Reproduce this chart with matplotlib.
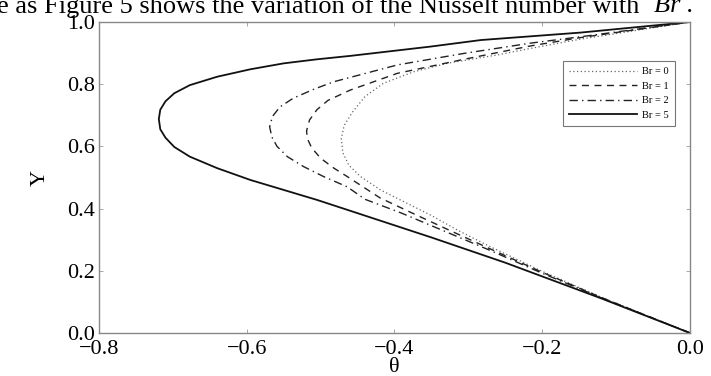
import matplotlib
matplotlib.use("Agg")
import matplotlib.pyplot as plt

# temperature profiles theta(Y) for several Brinkman numbers
br_labels = ["Br = 0", "Br = 1", "Br = 2", "Br = 5"]

theta_br0 = [0.000, -0.121, -0.200, -0.270, -0.315, -0.351, -0.383, -0.419, -0.446,
             -0.462, -0.470, -0.472, -0.468, -0.457, -0.440, -0.415, -0.374, -0.329,
             -0.261, -0.216, -0.148, 0.000]
y_br0 = [0.000, 0.116, 0.198, 0.277, 0.331, 0.379, 0.417, 0.460, 0.503,
         0.540, 0.580, 0.625, 0.668, 0.710, 0.760, 0.803, 0.840, 0.867,
         0.894, 0.915, 0.945, 1.000]

theta_br1 = [0.000, -0.121, -0.200, -0.270, -0.330, -0.380, -0.420, -0.464, -0.482,
             -0.500, -0.512, -0.518, -0.519, -0.515, -0.505, -0.490, -0.460, -0.396,
             -0.306, -0.216, -0.148, 0.000]
y_br1 = [0.000, 0.115, 0.195, 0.270, 0.335, 0.390, 0.435, 0.503, 0.530,
         0.562, 0.595, 0.625, 0.650, 0.685, 0.718, 0.748, 0.781, 0.835,
         0.880, 0.923, 0.950, 1.000]

theta_br2 = [0.000, -0.121, -0.200, -0.270, -0.330, -0.390, -0.440, -0.464, -0.496,
             -0.523, -0.545, -0.559, -0.566, -0.569, -0.565, -0.555, -0.537, -0.509,
             -0.482, -0.396, -0.306, -0.216, -0.140, 0.000]
y_br2 = [0.000, 0.114, 0.192, 0.265, 0.325, 0.385, 0.430, 0.470, 0.503,
         0.535, 0.567, 0.600, 0.630, 0.663, 0.697, 0.727, 0.755, 0.784,
         0.808, 0.862, 0.899, 0.932, 0.955, 1.000]

theta_br5 = [0.000, -0.121, -0.250, -0.351, -0.460, -0.505, -0.550, -0.595, -0.640,
             -0.677, -0.698, -0.710, -0.717, -0.719, -0.717, -0.710, -0.698, -0.677,
             -0.640, -0.595, -0.550, -0.505, -0.460, -0.351, -0.283, -0.148, 0.000]
y_br5 = [0.000, 0.112, 0.226, 0.308, 0.393, 0.428, 0.460, 0.492, 0.530,
         0.567, 0.598, 0.628, 0.655, 0.688, 0.718, 0.745, 0.771, 0.797,
         0.824, 0.848, 0.867, 0.880, 0.891, 0.921, 0.942, 0.966, 1.000]

xticks = [-0.8, -0.6, -0.4, -0.2, 0.0]
yticks = [0.0, 0.2, 0.4, 0.6, 0.8, 1.0]

plt.rcParams["font.family"] = ["Liberation Serif", "DejaVu Serif"]

fig = plt.figure(figsize=(7.11, 3.76), dpi=100)
ax = fig.add_axes([0.1392, 0.1144, 0.8313, 0.8271])

ax.plot(theta_br0, y_br0, ls=(0, (1, 2)), lw=0.9, color="#666666", label=br_labels[0])
ax.plot(theta_br1, y_br1, ls=(0, (5, 4)), lw=1.0, color="#222222", label=br_labels[1])
ax.plot(theta_br2, y_br2, ls=(0, (6, 3, 1, 3)), lw=1.0, color="#222222", label=br_labels[2])
ax.plot(theta_br5, y_br5, ls="-", lw=1.3, color="#111111", label=br_labels[3])

ax.set_xlim(-0.8, 0.0)
ax.set_ylim(0.0, 1.0)
ax.set_xticks(xticks)
ax.set_yticks(yticks)
ax.set_xticklabels([f"{t:.1f}".replace("-", "\u2212") if t != 0 else "0.0" for t in xticks])
ax.set_yticklabels([f"{t:.1f}" for t in yticks])
ax.tick_params(direction="in", length=3, width=0.6, colors="#999999",
               top=True, right=True, labelsize=16, labelcolor="black", pad=3)
ax.tick_params(axis="x", pad=5)
for s in ax.spines.values():
    s.set_color("#888888")
    s.set_linewidth(1.0)

ax.set_xlabel("θ", fontsize=16)
ax.xaxis.set_label_coords(0.5, -0.082)
ax.set_ylabel("Y", fontsize=16)
ax.yaxis.set_label_coords(-0.083, 0.5)

leg = ax.legend(loc="upper right", bbox_to_anchor=(0.9745, 0.875), fontsize=7.5,
                frameon=True, fancybox=False, handlelength=6.5, handletextpad=0.5,
                borderpad=0.6, labelspacing=0.5, borderaxespad=0)
leg.get_frame().set_edgecolor("#555555")
leg.get_frame().set_linewidth(0.8)

fig.text(-0.004, 1.012, "e as Figure 5 shows the variation of the Nusselt number with ",
         fontsize=19, ha="left", va="top")
fig.text(0.92, 1.012, "Br .", fontsize=19, style="italic", ha="left", va="top")

fig.savefig("out.png", dpi=100)
